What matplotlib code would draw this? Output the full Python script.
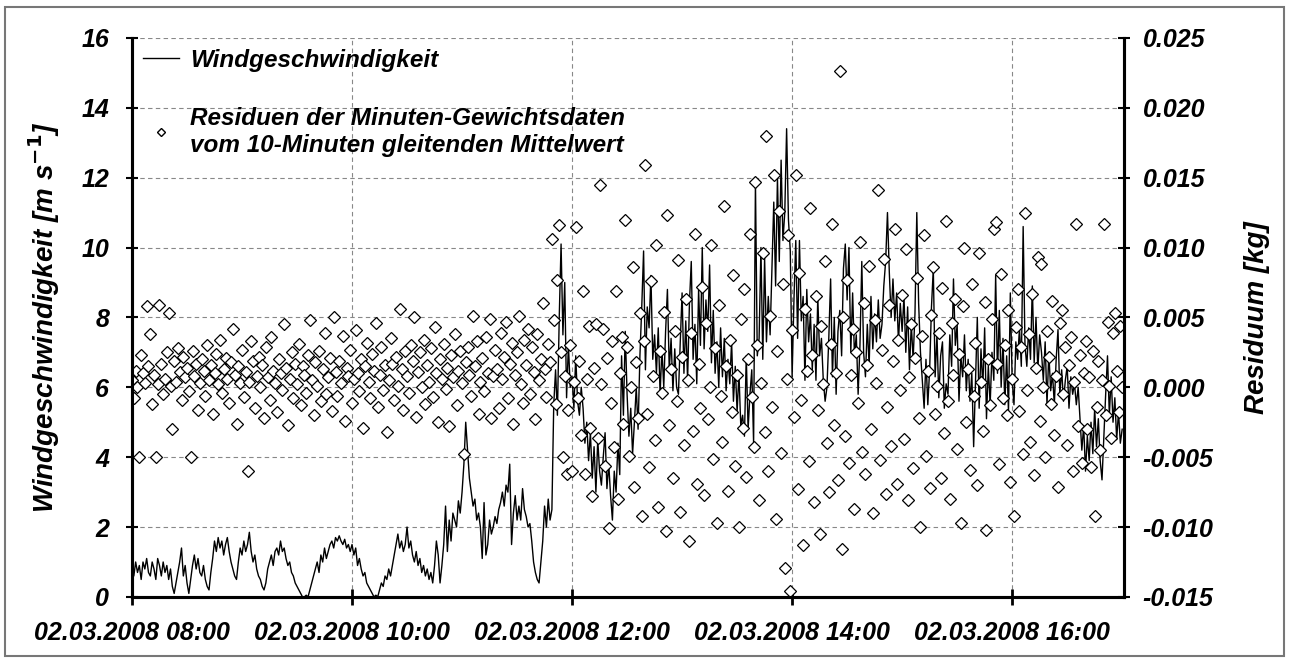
import numpy as np
import matplotlib
matplotlib.use("Agg")
import matplotlib.pyplot as plt
import matplotlib.dates as mdates
from matplotlib.lines import Line2D
from matplotlib.patches import Rectangle

plt.rcParams['font.family'] = ['Liberation Sans', 'DejaVu Sans']

# wind speed, one value per minute from 02.03.2008 08:00 [m/s]
wind = [
    0.9, 0.6, 1.0, 0.7, 0.9, 0.5, 1.0, 0.8, 1.1, 0.7,
    0.6, 1.0, 0.8, 0.5, 1.1, 0.9, 0.6, 1.0, 0.7, 0.9,
    0.5, 0.8, 0.3, 0.1, 0.4, 0.7, 1.0, 1.4, 0.6, 0.9,
    0.4, 0.1, 0.5, 0.9, 1.2, 0.8, 1.1, 0.7, 0.6, 0.9,
    0.5, 0.3, 0.2, 0.7, 1.1, 1.6, 1.3, 1.7, 1.4, 1.6,
    1.2, 1.5, 1.7, 1.3, 1.0, 0.8, 0.6, 0.5, 1.0, 1.4,
    1.2, 1.6, 1.3, 1.5, 1.85, 1.3, 1.0, 1.2, 0.8, 0.6,
    0.5, 0.3, 0.2, 0.4, 0.8, 1.0, 1.2, 0.9, 1.3, 1.4,
    1.2, 1.6, 1.3, 1.4, 1.1, 0.9, 1.0, 0.7, 0.6, 0.4,
    0.3, 0.2, 0.1, 0.0, 0.0, 0.05, 0.0, 0.2, 0.4, 0.6,
    0.8, 1.0, 0.7, 1.2, 1.0, 1.4, 1.1, 1.3, 1.5, 1.6,
    1.4, 1.7, 1.6, 1.75, 1.6, 1.5, 1.65, 1.4, 1.5, 1.3,
    1.5, 1.2, 1.4, 0.9, 1.1, 0.8, 0.6, 0.7, 0.4, 0.3,
    0.2, 0.1, 0.0, 0.05, 0.0, 0.2, 0.4, 0.3, 0.6, 0.5,
    0.8, 0.6, 0.9, 1.2, 1.5, 1.8, 1.4, 1.6, 1.3, 1.5,
    2.0, 1.4, 1.6, 1.2, 1.0, 1.3, 0.9, 1.1, 0.7, 0.9,
    0.6, 0.8, 0.5, 0.7, 0.4, 0.9, 1.6, 1.2, 0.4, 0.9,
    1.5, 2.6, 1.3, 2.2, 1.6, 2.4, 2.2, 2.0, 2.75, 2.4,
    3.0, 3.8, 5.0, 4.2, 3.4, 3.0, 2.6, 2.8, 2.2, 2.4,
    2.0, 1.1, 2.7, 1.2, 1.5, 2.2, 1.8, 2.0, 2.3, 2.1,
    2.5, 2.7, 3.0, 2.6, 3.2, 3.0, 3.8, 1.5, 2.4, 2.9,
    2.2, 2.6, 2.2, 3.1, 2.5, 2.3, 2.0, 2.1, 1.6, 1.0,
    0.7, 0.5, 0.4, 1.0, 1.6, 2.6, 2.0, 2.8, 2.2, 2.5,
    5.5, 6.5, 5.2, 8.0, 10.1, 7.5, 9.0, 5.7, 7.2, 6.0,
    6.3, 5.4, 6.9, 5.6, 5.2, 6.0, 5.4, 4.4, 5.0, 3.9,
    4.7, 3.4, 4.3, 3.0, 4.5, 3.6, 3.2, 4.0, 4.7, 3.1,
    3.8, 2.9, 2.2, 3.6, 3.0, 4.4, 3.5, 6.9, 5.2, 7.6,
    5.8, 4.6, 5.4, 4.1, 5.0, 6.0, 4.8, 6.9, 8.3, 9.9,
    6.5, 8.3, 7.7, 9.2, 6.8, 7.5, 6.4, 7.7, 5.8, 7.1,
    6.0, 7.6, 8.8, 6.5, 7.4, 5.9, 7.1, 6.0, 5.8, 7.3,
    8.7, 6.4, 7.9, 6.2, 8.4, 9.6, 6.8, 7.8, 6.1, 8.8,
    7.2, 10.0, 7.1, 8.5, 7.6, 9.5, 6.7, 8.2, 6.4, 7.3,
    6.0, 7.7, 6.3, 7.4, 5.9, 6.8, 6.1, 7.3, 5.6, 6.6,
    5.3, 6.4, 4.9, 5.2, 4.6, 6.9, 4.8, 5.8, 6.5, 4.4,
    11.9, 6.9, 7.4, 10.0, 6.8, 9.7, 7.3, 8.6, 7.5, 9.4,
    11.3, 8.9, 12.0, 9.6, 12.5, 10.2, 11.0, 13.4, 10.8, 9.9,
    6.3, 8.5, 10.2, 7.4, 10.2, 7.9, 8.6, 6.2, 8.8, 7.3,
    8.1, 6.5, 7.8, 6.2, 8.6, 6.9, 7.4, 6.2, 5.6, 6.0,
    7.4, 9.1, 6.3, 8.0, 5.8, 7.6, 8.2, 6.9, 9.4, 10.1,
    8.5, 10.0, 7.0, 8.7, 6.9, 7.5, 5.8, 7.2, 9.6, 7.0,
    6.3, 7.8, 6.6, 8.6, 7.1, 8.1, 7.3, 8.5, 7.4, 7.8,
    8.9, 9.6, 11.0, 9.3, 8.0, 9.1, 7.9, 8.7, 7.3, 8.4,
    7.6, 8.6, 7.0, 8.3, 6.5, 7.8, 6.8, 8.1, 11.0, 8.4,
    7.0, 6.2, 5.4, 6.8, 5.5, 6.5, 8.3, 9.4, 6.3, 7.5,
    5.7, 6.9, 7.3, 5.4, 6.1, 5.8, 7.5, 6.6, 9.1, 7.2,
    7.8, 5.6, 6.9, 6.3, 7.5, 5.9, 6.8, 5.6, 6.4, 4.3,
    6.2, 8.0, 5.4, 7.1, 6.0, 7.7, 5.1, 6.6, 5.5, 7.0,
    6.2, 9.2, 6.4, 8.2, 6.0, 7.4, 5.5, 6.9, 5.3, 8.7,
    6.2, 5.5, 7.3, 6.8, 7.7, 6.6, 10.6, 7.2, 6.6, 7.7,
    6.8, 8.9, 6.7, 8.0, 6.5, 7.5, 7.0, 6.2, 7.3, 5.5,
    7.0, 5.9, 6.4, 5.5, 6.8, 7.65, 5.8, 6.5, 5.6, 6.2,
    6.6, 5.4, 6.3, 5.8, 6.1, 5.5, 6.0, 5.1, 4.2, 4.9,
    3.6, 4.6, 3.9, 5.0, 4.1, 5.4, 4.3, 5.1, 3.9, 3.35,
    4.6, 5.8, 6.9, 5.2, 6.3, 5.0, 5.7, 4.5, 5.3, 4.4,
    4.8,
]

# residuals of minute weight data from the 10-minute moving average [g]
resid_g = [
    0.5, -0.8, 1.2, 0.0, -5.0, 2.3, 1.0, 0.3, 5.8, 1.5,
    3.8, -1.2, 0.9, -5.0, 0.2, 5.9, 1.7, -0.5, 0.6, 2.5,
    5.3, 0.1, -3.0, 1.9, 0.4, 2.8, 1.1, -0.9, 2.2, 0.7,
    1.4, -0.3, -5.0, 2.6, 0.8, 1.7, -1.6, 0.3, 2.0, 1.2,
    -0.6, 3.0, 0.5, 1.6, -1.9, 1.0, 2.4, 0.2, 3.4, -0.4,
    1.3, 2.1, 0.6, -1.1, 1.8, 4.2, 0.9, -2.6, 1.5, 0.3,
    2.7, -0.7, 1.1, -6.0, 0.4, 3.3, 1.9, -1.5, 0.8, 2.2,
    0.0, 1.6, -2.2, 2.9, 0.7, -0.9, 3.6, 1.2, 0.3, -1.8,
    2.0, 1.0, -0.2, 4.5, 1.4, -2.7, 0.6, 2.5, -0.8, 1.7,
    0.2, 3.1, -1.3, 1.5, 0.9, -0.4, 2.3, 4.8, 0.5, -2.0,
    1.8, 0.1, 2.6, -1.0, 1.3, 3.9, -0.5, 0.7, 2.1, -1.7,
    5.0, 1.1, -0.6, 1.9, 0.3, 3.7, -2.4, 1.4, 0.8, 2.7,
    -1.1, 0.6, 4.1, 1.0, -0.3, 2.0, -2.9, 1.5, 3.2, 0.4,
    -0.8, 2.4, 1.2, 4.6, -1.4, 0.9, 2.9, -0.2, 1.6, -3.2,
    0.5, 3.5, 1.7, -0.9, 2.2, 0.1, 5.6, 1.3, -1.6, 2.6,
    0.8, -0.4, 3.0, 1.9, 5.0, -2.1, 1.1, 2.5, 0.0, 3.4,
    -1.2, 1.6, 0.4, 2.8, -0.7, 4.3, 1.0, -2.5, 2.0, 0.6,
    3.1, -0.1, 1.4, -2.8, 2.3, 0.7, 3.8, -1.3, 1.2, 2.6,
    0.3, -4.8, 1.8, 2.9, 0.9, -0.6, 5.1, 1.5, 3.3, -1.9,
    0.4, 2.1, -0.3, 3.6, 1.0, 4.9, -2.2, 0.8, 2.7, 1.3,
    -1.5, 3.9, 0.6, 2.2, 4.7, -0.8, 1.7, 3.2, -2.6, 0.9,
    2.5, 5.1, 0.2, -1.1, 3.4, 1.6, 4.2, -0.5, 2.9, 1.1,
    -2.3, 3.8, 0.5, 2.0, 6.0, 1.3, -0.7, 3.1, 1.8, 10.6,
    4.8, -1.2, 7.7, 11.6, 2.5, -5.0, 0.8, -6.2, -1.6, 3.0,
    -6.0, 0.4, 11.5, -0.8, 1.9, -3.4, 6.9, -6.2, 0.6, 4.4,
    -2.9, -7.8, 1.4, 4.5, -3.6, 14.5, 0.2, 4.2, -5.6, 2.1,
    -10.1, -1.1, 3.3, -4.3, 6.9, -8.0, 1.0, 3.6, -2.6, 12.0,
    2.9, -4.9, 0.0, 8.6, -7.1, 1.8, -2.2, 5.3, -9.2, 3.3,
    15.9, -1.9, -5.7, 7.6, 0.8, -3.8, 10.2, -8.6, 2.6, -0.4,
    5.4, -10.3, 12.3, -2.7, 1.3, -6.5, 4.0, -1.0, 9.1, -8.9,
    2.2, -4.1, 6.3, 0.5, -11.0, 3.9, -3.1, 11.0, -6.9, 1.7,
    -1.5, 7.2, -7.7, 4.6, -2.3, 0.0, 10.2, -5.1, 2.8, -9.7,
    5.9, -0.6, -3.9, 13.0, 1.5, -7.4, 3.4, -1.8, 8.0, -5.6,
    0.9, -10.0, 4.9, -2.9, 7.0, -6.4, 2.0, 11.0, -0.7, -4.3,
    14.7, 3.0, -8.1, 0.3, 9.6, -3.2, 18.0, -6.0, 5.1, -1.4,
    15.2, -9.4, 2.6, 12.6, -4.7, 7.4, -12.9, 0.6, 10.9, -14.6,
    4.1, -2.1, 15.2, -7.3, 8.2, -0.9, -11.3, 5.6, 1.2, -5.3,
    12.8, 2.3, -8.2, 6.5, -1.6, -10.5, 4.4, 0.2, 9.0, -4.0,
    -7.5, 3.1, 11.7, -2.7, 1.0, -6.6, 22.6, -11.6, 5.0, -3.5,
    7.7, -5.4, 0.9, 4.2, -8.7, 2.5, -1.1, 10.4, -4.6, 6.0,
    -6.2, 1.6, 8.7, -3.0, -9.0, 4.8, 0.3, 14.1, -5.2, 2.7,
    9.2, -7.6, -1.4, 5.9, -4.2, 1.9, 11.3, -6.9, 3.4, -0.2,
    6.6, -3.7, 9.9, -8.1, 0.7, 4.5, -5.8, 2.1, 7.8, -2.2,
    -10.0, 3.7, 10.9, -4.9, 1.2, -7.2, 5.2, 8.6, -1.9, 0.1,
    3.9, -6.5, 7.1, -3.3, 11.9, -1.0, -8.0, 4.6, 0.9, 6.3,
    -4.4, 2.4, -9.7, 5.8, 10.0, -2.5, 1.3, -5.9, 7.4, -0.6,
    3.2, -7.0, 9.6, 0.4, -3.1, 6.1, -10.2, 2.0, -1.3, 4.9,
    11.3, 11.8, 1.7, -5.5, 8.1, -0.8, 3.0, -2.0, 5.5, -6.8,
    0.6, -9.2, 4.3, 7.0, -1.7, 2.9, -4.8, 12.5, -0.2, 3.8,
    -3.9, 6.7, -6.3, 1.4, 9.3, -2.4, 8.8, 0.0, -5.0, 4.0,
    2.2, -1.2, 6.2, -3.4, 0.8, -7.1, 4.6, 5.5, -0.5, 2.9,
    -4.1, 1.6, 3.6, -6.0, 0.4, 11.7, -2.8, 2.3, -5.4, 1.0,
    3.3, -3.0, 0.7, -5.7, 2.6, -9.2, -1.4, 1.9, -4.5, 0.5,
    11.7, -2.0, 4.7, 0.1, -3.6, 3.9, 5.3, 1.2, -1.8, 4.4,
    0.0,
]

start = np.datetime64('2008-03-02T08:00')
t = start + np.arange(len(wind)) * np.timedelta64(1, 'm')
resid = np.array(resid_g) / 1000.0

fs = 18
fnt = dict(fontweight='bold', fontstyle='italic')

fig = plt.figure(figsize=(12.89, 6.64), dpi=100)
ax = fig.add_axes([0.1024, 0.101, 0.7696, 0.842])
ax2 = ax.twinx()

ax.plot(t, wind, color='black', lw=1.0, zorder=3)
ax2.plot(t, resid, linestyle='none', marker='D', markersize=6,
         markerfacecolor='white', markeredgecolor='black', markeredgewidth=0.9)

ax.set_ylim(0, 16)
ax.set_yticks(np.arange(0, 17, 2))
ax2.set_ylim(-0.015, 0.025)
ax2.set_yticks(np.arange(-0.015, 0.0251, 0.005))
ax2.yaxis.set_major_formatter(plt.FormatStrFormatter('%.3f'))

ax.set_xlim(start, start + np.timedelta64(541, 'm'))
ax.xaxis.set_major_locator(mdates.HourLocator(byhour=range(8, 18, 2)))
ax.xaxis.set_major_formatter(mdates.DateFormatter('%d.%m.%Y %H:%M'))

ax.grid(True, color='#888888', linestyle=(0, (4, 3)), lw=0.8)
ax.set_axisbelow(True)

for a in (ax, ax2):
    a.spines['top'].set_visible(False)
    for s in ('left', 'right', 'bottom'):
        a.spines[s].set_linewidth(2.2)
    for lab in a.get_xticklabels() + a.get_yticklabels():
        lab.set_fontsize(fs)
        lab.set_fontweight('bold')
        lab.set_fontstyle('italic')
ax.tick_params(axis='y', direction='inout', length=9, width=1.5, pad=12)
ax2.tick_params(axis='y', direction='inout', length=9, width=1.5, pad=9)
ax.tick_params(axis='x', direction='inout', length=12, width=2, pad=11)

ax.set_ylabel('Windgeschwindigkeit [m s$^{\\mathbf{-1}}$]', fontsize=20, labelpad=14, **fnt)
ax2.set_ylabel('Residuum [kg]', fontsize=20, labelpad=22, **fnt)

handles = [Line2D([], [], color='black', lw=1.0),
           Line2D([], [], linestyle='none', marker='D', markersize=4.5,
                  markerfacecolor='white', markeredgecolor='black')]
labels = ['Windgeschwindigkeit',
          'Residuen der Minuten-Gewichtsdaten\nvom 10-Minuten gleitenden Mittelwert']
leg = ax2.legend(handles, labels, loc='upper left', frameon=False,
                 prop=dict(size=17.5, weight='bold', style='italic'),
                 handlelength=1.5, handletextpad=0.45, labelspacing=1.45,
                 borderaxespad=0.15, borderpad=0.3)

fig.patches.append(Rectangle((0.004, 0.012), 0.992, 0.978, transform=fig.transFigure,
                             fill=False, edgecolor='#777777', lw=1.5))

fig.savefig('out.png', dpi=100)
